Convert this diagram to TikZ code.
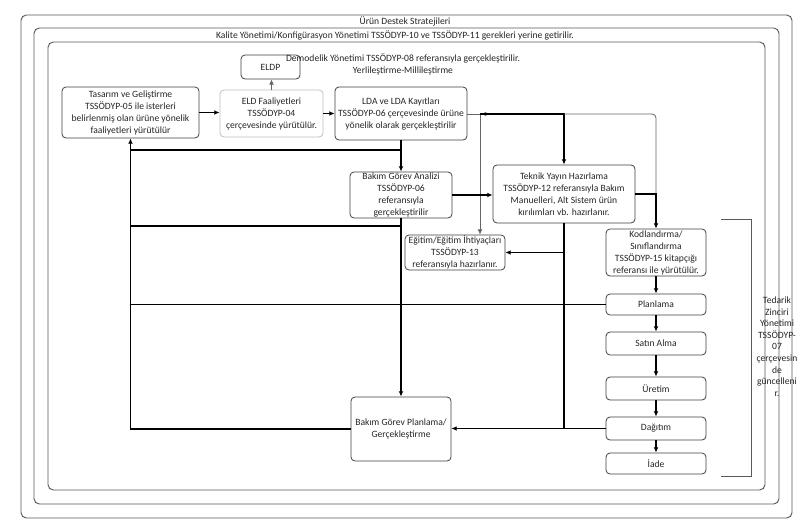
\documentclass[tikz,border=0pt]{standalone}
\usepackage{fontspec}
\setmainfont{Carlito}
\usetikzlibrary{arrows.meta}
\begin{document}
\begin{tikzpicture}[x=0.75pt,y=-0.75pt,
  font=\fontsize{7.2}{9}\selectfont, text=black!85,
  box/.style={draw=black!75, rounded corners=3pt, line width=0.6pt, align=center, inner sep=0pt, fill=white},
  lbox/.style={box, draw=black!25},
  frame/.style={draw=black!65, rounded corners=4pt, line width=0.7pt},
  thk/.style={line width=1.2pt, black},
  thn/.style={line width=0.6pt, black!60},
  tip/.style={-{Latex[length=4pt,width=3.6pt]}},
]
\useasboundingbox (0,0) rectangle (800,525);
\fill[white] (0,0) rectangle (800,525);

% frames
\draw[frame] (21,15) rectangle (792,518);
\draw[frame] (34,28) rectangle (779,504);
\draw[frame] (48,42) rectangle (765,490);
\node (t1) at (405,21.5) {Ürün Destek Stratejileri};
\node (t2) at (395,35) {Kalite Yönetimi/Konfigürasyon Yönetimi TSSÖDYP-10 ve TSSÖDYP-11 gerekleri yerine getirilir.};

% bracket
\draw[line width=0.6pt, black!65] (721,219) -- (751,219) -- (751,476) -- (721,476);
\node[align=center, font=\fontsize{7.2}{8.7}\selectfont] (ted) at (777,346.5) {Tedarik\\Zinciri\\Yönetimi\\TSSÖDYP-\\07\\çerçevesin\\de\\güncelleni\\r.};

% boxes
\node[box, minimum width=102.75pt, minimum height=38.25pt] (tas) at (130.5,112.5)
  {Tasarım ve Geliştirme\\TSSÖDYP-05 ile isterleri\\belirlenmiş olan ürüne yönelik\\faaliyetleri yürütülür};
\node[box, minimum width=44.25pt, minimum height=18pt] (eldp) at (270.5,67) {ELDP};
\node[lbox, minimum width=77.25pt, minimum height=35.25pt] (eld) at (271.5,113.5)
  {ELD Faaliyetleri\\TSSÖDYP-04\\çerçevesinde yürütülür.};
\node[box, minimum width=99pt, minimum height=39.75pt] (lda) at (401,113.5)
  {LDA ve LDA Kayıtları\\TSSÖDYP-06 çerçevesinde ürüne\\yönelik olarak gerçekleştirilir};
\node[align=center] (dem) at (403,64) {Demodelik Yönetimi TSSÖDYP-08 referansıyla gerçekleştirilir.\\Yerlileştirme-Millileştirme};
\node[box, minimum width=76.5pt, minimum height=34.5pt] (bga) at (401,195)
  {Bakım Görev Analizi\\TSSÖDYP-06\\referansıyla\\gerçekleştirilir};
\node[box, minimum width=106.5pt, minimum height=43.5pt] (tek) at (564,194)
  {Teknik Yayın Hazırlama\\TSSÖDYP-12 referansıyla Bakım\\Manuelleri, Alt Sistem ürün\\kırılımları vb. hazırlanır.};
\node[box, minimum width=75pt, minimum height=26.25pt] (egt) at (455,252.5)
  {Eğitim/Eğitim İhtiyaçları\\TSSÖDYP-13\\referansıyla hazırlanır.};
\node[box, minimum width=75pt, minimum height=48pt] (bgp) at (401,429)
  {Bakım Görev Planlama/\\Gerçekleştirme};
\node[box, minimum width=75pt, minimum height=35.25pt] (kod) at (656,252.5)
  {Kodlandırma/\\Sınıflandırma\\TSSÖDYP-15 kitapçığı\\referansı ile yürütülür.};
\node[box, minimum width=75pt, minimum height=15.75pt] (pla) at (656,304.5) {Planlama};
\node[box, minimum width=75pt, minimum height=17.25pt] (sat) at (656,343.5) {Satın Alma};
\node[box, minimum width=75pt, minimum height=17.25pt] (ure) at (656,388.5) {Üretim};
\node[box, minimum width=75pt, minimum height=17.25pt] (dag) at (656,428.5) {Dağıtım};
\node[box, minimum width=75pt, minimum height=15.75pt] (iad) at (656,463.5) {İade};

% junction coordinates
\coordinate (a0) at (490,114);
\coordinate (a1) at (480,114);
\coordinate (a2) at (564,114);
\coordinate (a3) at (656,114);
\coordinate (b1) at (401,150);
\coordinate (b2) at (130.5,150);
\coordinate (c1) at (401,226);
\coordinate (c2) at (130.5,226);

% connectors
\draw[thk,tip] (tas.east) -- (tas.east -| eld.west);
\draw[thk,tip] (eld.east) -- (eld.east -| lda.west);
\draw[thn,tip] (eld.north) -- (eld.north |- eldp.south);

\draw[thn] (lda.east |- a1) -- (a1);
\draw[thn,tip] (a1) -- (a0);
\draw[thn,tip] (a1) -- (a1 |- egt.north);
\draw[thk,tip] (a1) -- (a2) -- (tek.north);
\draw[thn, rounded corners=3pt] (a2) -- (a3) -- (a3 |- tek.east);
\draw[thk,tip] (tek.east) -- (tek.east -| a3) -- (kod.north);

\draw[thk,tip] (lda.south) -- (bga.north);
\draw[thk,tip] (b1) -- (b2) -- (tas.south);
\draw[thk,tip] (bga.east) -- (bga.east -| tek.west);
\draw[thk,tip] (bga.south) -- (bgp.north);
\draw[thk] (c1) -- (c2);
\draw[thk] (bgp.west) -- (bgp.west -| b2) -- (b2);
\draw[thk] (pla.west) -- (pla.west -| b2);
\draw[thk,tip] (dag.west) -- (dag.west -| bgp.east);
\draw[thk] (tek.south) -- (tek.south |- dag.west);
\draw[thk,tip] (tek.south |- egt.east) -- (egt.east);

\draw[thk,tip] (kod.south) -- (pla.north);
\draw[thk,tip] (pla.south) -- (sat.north);
\draw[thk,tip] (sat.south) -- (ure.north);
\draw[thk,tip] (ure.south) -- (dag.north);
\draw[thk,tip] (dag.south) -- (iad.north);
\end{tikzpicture}
\end{document}
